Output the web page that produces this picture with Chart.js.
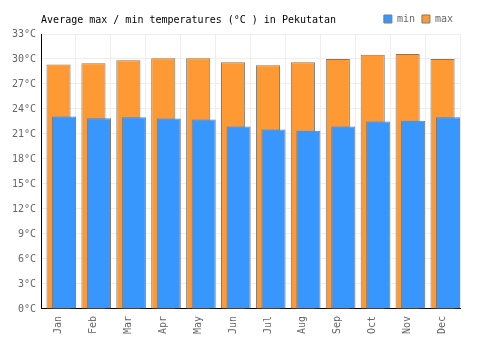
<!DOCTYPE html>
<html>
<head>
<meta charset="utf-8">
<script src="https://cdn.jsdelivr.net/npm/chart.js@4"></script>
<style>
  body { margin: 0; background: #fff; }
  #wrap { width: 500px; height: 350px; }
</style>
</head>
<body>
<div id="wrap"><canvas id="temps"></canvas></div>
<script>
const months = ['Jan', 'Feb', 'Mar', 'Apr', 'May', 'Jun', 'Jul', 'Aug', 'Sep', 'Oct', 'Nov', 'Dec'];
const minTemps = [23.1, 22.9, 23.0, 22.85, 22.75, 21.9, 21.55, 21.4, 21.9, 22.5, 22.6, 23.0];
const maxTemps = [29.35, 29.5, 29.85, 30.1, 30.1, 29.6, 29.25, 29.6, 30.0, 30.5, 30.6, 30.0];
const yTicks = [0, 3, 6, 9, 12, 15, 18, 21, 24, 27, 30, 33];

const titleText = 'Average max / min temperatures (°C ) in Pekutatan';
const monoFont = "'DejaVu Sans Mono', monospace";

// title sits on the legend's line, left aligned with the plot
const sideTitle = {
  id: 'sideTitle',
  afterDraw(chart) {
    const ctx = chart.ctx;
    const lg = chart.legend;
    ctx.save();
    ctx.font = '10px ' + monoFont;
    ctx.fillStyle = '#000';
    ctx.textBaseline = 'middle';
    ctx.textAlign = 'left';
    ctx.fillText(titleText, chart.chartArea.left, lg.top + lg.height / 2);
    ctx.restore();
  }
};

// min bars sit in the right slot but must be painted over the max bars
const minOnTop = {
  id: 'minOnTop',
  beforeDatasetDraw(chart, args) {
    if (args.index === 0) return false;
  },
  afterDatasetsDraw(chart) {
    chart.getDatasetMeta(0).controller.draw();
  }
};

const barOpts = {
  borderColor: '#7a7a7a',
  borderWidth: 1,
  categoryPercentage: 0.471,
  barPercentage: 4.4
};

new Chart(document.getElementById('temps'), {
  type: 'bar',
  data: {
    labels: months,
    datasets: [
      { label: 'min', data: minTemps, backgroundColor: '#3797ff', order: 2, ...barOpts },
      { label: 'max', data: maxTemps, backgroundColor: '#ff9933', order: 1, ...barOpts },
      // empty spacer occupying the left slot of each month
      { label: '', data: [], order: 0, ...barOpts }
    ]
  },
  options: {
    responsive: true,
    maintainAspectRatio: false,
    animation: false,
    layout: { padding: { top: 7, right: 40, bottom: 9, left: 7 } },
    plugins: {
      title: { display: false },
      tooltip: { enabled: false },
      legend: {
        display: true,
        position: 'top',
        align: 'end',
        labels: {
          filter: item => item.datasetIndex < 2,
          sort: (a, b) => a.datasetIndex - b.datasetIndex,
          boxWidth: 8,
          boxHeight: 8,
          padding: 7,
          color: '#666',
          font: { family: monoFont, size: 10 }
        }
      }
    },
    scales: {
      x: {
        offset: true,
        grid: { color: '#eeeeee', offset: true, drawTicks: false },
        border: { color: '#000', width: 1 },
        ticks: {
          autoSkip: false,
          maxRotation: 90,
          minRotation: 90,
          padding: 7,
          color: '#666',
          font: { family: monoFont, size: 10 }
        }
      },
      y: {
        min: 0,
        max: 33,
        afterBuildTicks: axis => { axis.ticks = yTicks.map(v => ({ value: v })); },
        grid: { color: '#eeeeee', drawTicks: false },
        border: { color: '#000', width: 1 },
        ticks: {
          color: '#666',
          padding: 5,
          font: { family: monoFont, size: 10 },
          callback: v => v + '°C'
        }
      }
    }
  },
  plugins: [sideTitle, minOnTop]
});
</script>
</body>
</html>
